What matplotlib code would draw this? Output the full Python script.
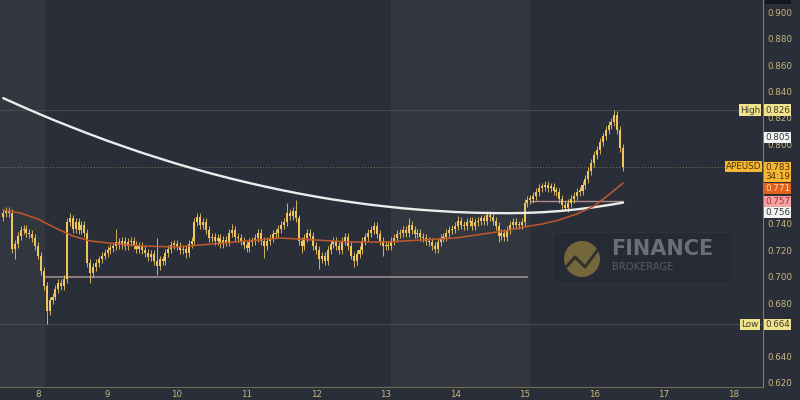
import numpy as np
import matplotlib
matplotlib.use("Agg")
import matplotlib.pyplot as plt
from matplotlib.patches import Rectangle, Circle
from matplotlib.transforms import blended_transform_factory

# ---------------- data (hourly APEUSD candles) ----------------
start_day = 7.5          # day-of-month of first candle
first_open = 0.745
closes = [
    0.748, 0.750, 0.748, 0.721, 0.725, 0.731, 0.735, 0.736, 0.733, 0.732, 0.729, 0.723,
    0.716, 0.704, 0.693, 0.674, 0.682, 0.685, 0.691, 0.695, 0.693, 0.698, 0.741, 0.744,
    0.736, 0.741, 0.735, 0.739, 0.733, 0.710, 0.703, 0.707, 0.710, 0.713, 0.716, 0.718,
    0.720, 0.722, 0.723, 0.726, 0.724, 0.727, 0.723, 0.726, 0.727, 0.724, 0.721, 0.723,
    0.720, 0.718, 0.715, 0.717, 0.712, 0.708, 0.713, 0.712, 0.718, 0.721, 0.724, 0.725,
    0.723, 0.720, 0.721, 0.718, 0.725, 0.727, 0.741, 0.745, 0.739, 0.741, 0.735, 0.729,
    0.730, 0.727, 0.729, 0.725, 0.728, 0.726, 0.733, 0.735, 0.730, 0.729, 0.727, 0.724,
    0.722, 0.726, 0.727, 0.729, 0.733, 0.727, 0.723, 0.727, 0.729, 0.732, 0.733, 0.736,
    0.739, 0.741, 0.748, 0.746, 0.750, 0.744, 0.727, 0.723, 0.729, 0.733, 0.731, 0.723,
    0.720, 0.713, 0.716, 0.712, 0.720, 0.725, 0.727, 0.723, 0.720, 0.727, 0.730, 0.723,
    0.716, 0.712, 0.717, 0.720, 0.727, 0.730, 0.733, 0.735, 0.738, 0.732, 0.727, 0.723,
    0.724, 0.723, 0.727, 0.729, 0.732, 0.733, 0.735, 0.733, 0.739, 0.735, 0.732, 0.733,
    0.730, 0.729, 0.727, 0.726, 0.723, 0.721, 0.726, 0.729, 0.730, 0.733, 0.735, 0.736,
    0.738, 0.742, 0.739, 0.738, 0.741, 0.742, 0.738, 0.741, 0.742, 0.744, 0.742, 0.747,
    0.745, 0.742, 0.738, 0.731, 0.733, 0.730, 0.735, 0.739, 0.741, 0.739, 0.739, 0.741,
    0.756, 0.758, 0.759, 0.761, 0.764, 0.767, 0.768, 0.769, 0.767, 0.768, 0.765, 0.764,
    0.759, 0.754, 0.752, 0.756, 0.759, 0.761, 0.764, 0.765, 0.769, 0.774, 0.780, 0.786,
    0.792, 0.796, 0.802, 0.806, 0.811, 0.815, 0.817, 0.822, 0.811, 0.797, 0.783,
]
# wick lengths beyond the body, in thousandths
wick_up = [
    3, 3, 3, 3, 3, 3, 3, 3, 3, 3, 3, 3, 3, 3, 3, 3, 3, 3, 3, 3, 3, 3, 3, 4,
    3, 3, 3, 3, 3, 3, 3, 3, 3, 3, 3, 3, 3, 3, 3, 10, 3, 3, 3, 3, 3, 3, 3, 3,
    3, 3, 3, 3, 3, 17, 3, 3, 3, 3, 3, 3, 3, 3, 3, 3, 3, 3, 3, 3, 3, 3, 3, 3,
    3, 3, 3, 3, 3, 3, 3, 5, 3, 3, 3, 3, 3, 3, 3, 3, 3, 3, 3, 3, 3, 3, 3, 3,
    3, 3, 8, 3, 3, 8, 3, 3, 3, 3, 3, 3, 3, 3, 3, 3, 3, 3, 3, 3, 3, 3, 3, 3,
    3, 3, 3, 3, 3, 3, 3, 3, 3, 3, 3, 3, 3, 3, 3, 3, 3, 3, 3, 3, 5, 3, 3, 3,
    3, 3, 3, 3, 3, 3, 3, 3, 3, 3, 3, 3, 3, 4, 3, 3, 3, 3, 3, 3, 3, 3, 3, 3,
    3, 3, 3, 3, 3, 3, 3, 3, 3, 3, 3, 3, 3, 3, 3, 3, 3, 3, 3, 3, 3, 3, 3, 3,
    3, 3, 3, 3, 3, 3, 3, 3, 3, 3, 3, 3, 3, 3, 3, 3, 3, 3, 3, 4, 3, 3, 3,
]
wick_dn = [
    3, 3, 3, 3, 8, 3, 3, 3, 3, 3, 3, 3, 3, 3, 3, 10, 3, 3, 3, 3, 3, 3, 3, 3,
    3, 3, 3, 3, 3, 3, 8, 3, 3, 3, 3, 3, 3, 3, 3, 3, 3, 3, 3, 3, 3, 3, 3, 3,
    3, 3, 3, 3, 3, 7, 3, 3, 3, 3, 3, 3, 3, 3, 3, 4, 3, 3, 3, 3, 3, 3, 3, 3,
    3, 3, 3, 3, 3, 3, 3, 3, 3, 3, 3, 3, 3, 3, 3, 3, 3, 3, 9, 3, 3, 3, 3, 3,
    3, 3, 3, 3, 3, 3, 3, 5, 3, 3, 3, 3, 3, 7, 3, 3, 3, 3, 3, 3, 3, 3, 3, 3,
    3, 5, 3, 3, 3, 3, 3, 3, 3, 3, 3, 7, 3, 3, 3, 3, 3, 3, 3, 3, 3, 3, 3, 3,
    3, 3, 3, 3, 3, 3, 3, 3, 3, 3, 3, 3, 3, 3, 3, 3, 3, 3, 3, 3, 3, 3, 3, 3,
    3, 3, 3, 5, 3, 3, 3, 3, 3, 3, 3, 3, 3, 3, 3, 3, 3, 3, 3, 3, 3, 3, 3, 3,
    3, 3, 2, 3, 3, 3, 3, 3, 3, 3, 3, 3, 3, 3, 3, 3, 3, 3, 3, 3, 3, 3, 3,
]

# moving averages sampled at candle indices
ma_slow_idx = [0, 6, 12, 18, 24, 30, 36, 42, 48, 54, 60, 66, 72, 78, 84, 90, 96, 102, 108,
               114, 120, 126, 132, 138, 144, 150, 156, 162, 168, 174, 180, 186, 192, 198,
               204, 210, 214]
ma_slow = [0.8350, 0.8291, 0.8234, 0.8179, 0.8127, 0.8076, 0.8027, 0.7981, 0.7936, 0.7894,
           0.7853, 0.7815, 0.7779, 0.7745, 0.7713, 0.7683, 0.7655, 0.7629, 0.7605, 0.7583,
           0.7564, 0.7546, 0.7531, 0.7517, 0.7506, 0.7497, 0.7489, 0.7484, 0.7481, 0.7480,
           0.7482, 0.7487, 0.7496, 0.7509, 0.7525, 0.7545, 0.7560]
ma_fast_idx = [0, 6, 12, 18, 24, 30, 36, 48, 60, 72, 84, 96, 108, 120, 132, 144, 156, 168,
               174, 180, 186, 192, 198, 204, 209, 214]
ma_fast = [0.7504, 0.7481, 0.7436, 0.7368, 0.7308, 0.7270, 0.7255, 0.7232, 0.7224, 0.7247,
           0.7270, 0.7292, 0.7277, 0.7262, 0.7262, 0.7277, 0.7292, 0.7330, 0.7349, 0.7376,
           0.7398, 0.7429, 0.7474, 0.7534, 0.7618, 0.7708]

support_level = 0.700
support_span = (8.10, 15.05)
pink_level = 0.757
pink_span = (15.08, 16.42)
high_val, low_val, last_val = 0.826, 0.664, 0.783
other_val = 0.805
fast_val, pink_val, slow_val = 0.771, 0.757, 0.756
countdown = "34:19"
symbol = "APEUSD"

day_ticks = [8, 9, 10, 11, 12, 13, 14, 15, 16, 17, 18]
price_ticks = [0.62, 0.64, 0.68, 0.70, 0.72, 0.74, 0.80, 0.82, 0.84, 0.86, 0.88, 0.90]

# ---------------- styling ----------------
BG = "#2a2e39"
BAND = "#32363f"
CANDLE = "#f0c65a"
TICK = "#c9b77a"

fig = plt.figure(figsize=(8, 4), dpi=100, facecolor=BG)
ax = fig.add_axes([0, 13.3 / 400, 763 / 800, 386.7 / 400], facecolor=BG)
ax.set_xlim(7.453, 18.43)
ax.set_ylim(0.6168, 0.9092)

# session bands
ax.axvspan(7.453, 8.10, color=BAND, lw=0, zorder=0)
ax.axvspan(13.08, 15.08, color=BAND, lw=0, zorder=0)

# horizontal reference lines
ax.axhline(high_val, color="#464a54", lw=0.8, zorder=1)
ax.axhline(low_val, color="#464a54", lw=0.8, zorder=1)
ax.axhline(last_val, color="#7d7658", lw=0.7, ls=(0, (1, 2)), zorder=1)
ax.hlines(support_level, *support_span, color="#9a8e8e", lw=1.2, zorder=1)
ax.hlines(pink_level, *pink_span, color="#b08c8c", lw=1.0, zorder=1)

# candles
c = np.array(closes)
o = np.concatenate([[first_open], c[:-1]])
wu = np.array(wick_up) / 1000.0
wd = np.array(wick_dn) / 1000.0
hi = np.maximum(o, c) + wu
lo = np.minimum(o, c) - wd
t = start_day + np.arange(len(c)) / 24.0
ax.vlines(t, lo, hi, color=CANDLE, lw=0.6, zorder=3)
body_h = np.maximum(np.abs(c - o), 0.0012)
ax.bar(t, body_h, bottom=np.minimum(o, c), width=0.7 / 24, color=CANDLE, lw=0, zorder=3)

# moving averages
ax.plot(start_day + np.array(ma_slow_idx) / 24.0, ma_slow, color="#ececec", lw=1.7, zorder=4,
        solid_capstyle="round", solid_joinstyle="round")
ax.plot(start_day + np.array(ma_fast_idx) / 24.0, ma_fast, color="#c2592c", lw=1.1, zorder=4,
        solid_capstyle="round", solid_joinstyle="round")

# axes styling
for s in ["top", "left"]:
    ax.spines[s].set_visible(False)
ax.spines["right"].set_color("#8a7d50")
ax.spines["right"].set_linewidth(0.8)
ax.spines["bottom"].set_color("#6f6a50")
ax.spines["bottom"].set_linewidth(0.8)
ax.yaxis.tick_right()
ax.set_yticks(price_ticks)
ax.set_yticklabels([f"{v:.3f}" for v in price_ticks])
ax.set_xticks(day_ticks)
ax.set_xticklabels([str(d) for d in day_ticks])
ax.tick_params(axis="y", length=0, pad=3, labelsize=6.3, labelcolor=TICK)
ax.tick_params(axis="x", length=0, pad=2.5, labelsize=6.3, labelcolor=TICK)

# price tags
tr = blended_transform_factory(fig.transFigure, ax.transData)


def tag(xf, val, s, fc, tc, dy_pt=0.0, ls=1.0):
    ax.annotate(s, xy=(xf, val), xycoords=tr, xytext=(0, dy_pt), textcoords="offset points",
                ha="center", va="center", fontsize=6.3, color=tc, linespacing=ls,
                bbox=dict(boxstyle="square,pad=0.12", fc=fc, ec="none"),
                zorder=10, annotation_clip=False)


xv = 777.5 / 800
tag(750 / 800, high_val, "High", "#f1e38c", "#3b3a2a")
tag(xv, high_val, f"{high_val:.3f}", "#f1e38c", "#3b3a2a")
tag(xv, other_val, f"{other_val:.3f}", "#f4f4f4", "#333333")
tag(743.5 / 800, last_val, symbol, "#f5b735", "#4a3500")
tag(xv, last_val, f"{last_val:.3f}\n{countdown}", "#f5b735", "#4a3500", dy_pt=-3.6, ls=1.05)
tag(xv, fast_val, f"{fast_val:.3f}", "#e3601c", "#ffe2b8", dy_pt=-4.3)
tag(xv, pink_val, f"{pink_val:.3f}", "#f2a4a4", "#b3262b")
tag(xv, slow_val, f"{slow_val:.3f}", "#f4f4f4", "#333333", dy_pt=-7.0)
tag(750 / 800, low_val, "Low", "#f1e38c", "#3b3a2a")
tag(xv, low_val, f"{low_val:.3f}", "#f1e38c", "#3b3a2a")

# watermark overlay (pixel coordinates)
wm = fig.add_axes([0, 0, 1, 1], facecolor="none", zorder=5)
wm.set_xlim(0, 800)
wm.set_ylim(400, 0)
wm.axis("off")
wm.add_patch(Rectangle((553, 232), 179, 51, fc="#262a33", ec="#30343d", lw=0.8, alpha=0.8))
wm.add_patch(Circle((582, 259), 18, fc="#7f6e3e", ec="none", alpha=0.9))
wm.plot([567, 575, 585, 597], [266, 257, 267, 251], color="#2b2c2c", lw=2.2, alpha=0.9)
wm.text(611, 249, "FINANCE", fontsize=15, fontweight="bold", color="#6b6f79",
        ha="left", va="center")
wm.text(612, 267.5, "BROKERAGE", fontsize=7.2, color="#575b65", ha="left", va="center")
wm.add_patch(Rectangle((765, 0), 26, 3.5, fc="#131722", ec="none"))

fig.savefig("out.png", dpi=100, facecolor=BG)
